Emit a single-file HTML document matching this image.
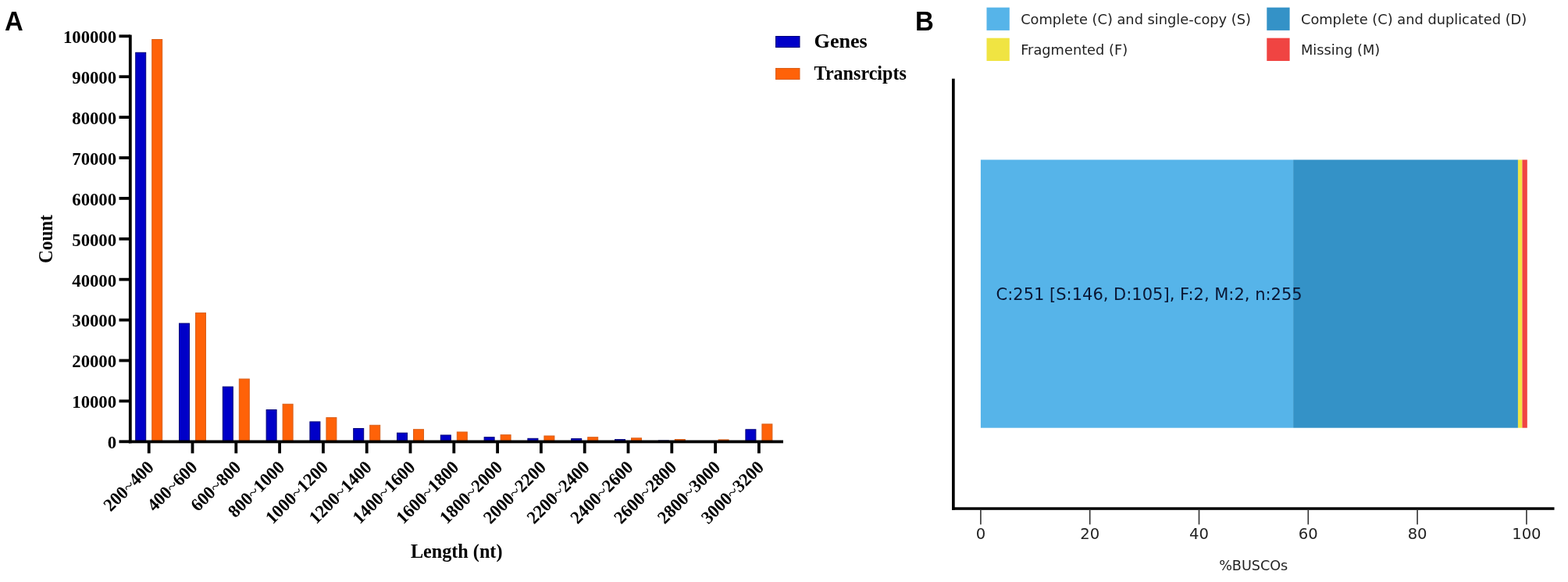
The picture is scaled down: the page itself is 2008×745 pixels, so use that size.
<!DOCTYPE html><html><head><meta charset="utf-8"><title>Figure</title><style>
html,body{margin:0;padding:0;background:#fff;}body{width:2008px;height:745px;overflow:hidden;position:relative;}
svg{position:absolute;left:0;top:0;display:block}
.serif{font-family:"Liberation Serif","Times New Roman",serif;font-weight:bold;fill:#000}
.sans{font-family:"DejaVu Sans","Liberation Sans",sans-serif;fill:#222}
.lab{font-family:"Liberation Sans",Arial,sans-serif;font-weight:bold;fill:#000}
</style></head><body>
<svg width="2008" height="745" viewBox="0 0 2008 745">
<text class="lab" x="0" y="0" font-size="34.6" transform="translate(6 39.1) scale(0.95 1)">A</text>
<text class="lab" x="0" y="0" font-size="34.6" transform="translate(1172 38.9) scale(0.955 1)">B</text>
<g id="chartA">
<rect x="173.7" y="67.3" width="13" height="498.1" fill="#0000c8" stroke="#000078" stroke-width="1"/>
<rect x="194.7" y="50.5" width="13" height="514.9" fill="#ff6208" stroke="#d8601c" stroke-width="1"/>
<rect x="229.5" y="414" width="13" height="151.4" fill="#0000c8" stroke="#000078" stroke-width="1"/>
<rect x="250.5" y="400.6" width="13" height="164.8" fill="#ff6208" stroke="#d8601c" stroke-width="1"/>
<rect x="285.3" y="495.1" width="13" height="70.3" fill="#0000c8" stroke="#000078" stroke-width="1"/>
<rect x="306.3" y="485.1" width="13" height="80.3" fill="#ff6208" stroke="#d8601c" stroke-width="1"/>
<rect x="341.1" y="524.6" width="13" height="40.8" fill="#0000c8" stroke="#000078" stroke-width="1"/>
<rect x="362.1" y="517.3" width="13" height="48.1" fill="#ff6208" stroke="#d8601c" stroke-width="1"/>
<rect x="396.9" y="539.9" width="13" height="25.5" fill="#0000c8" stroke="#000078" stroke-width="1"/>
<rect x="417.9" y="534.6" width="13" height="30.8" fill="#ff6208" stroke="#d8601c" stroke-width="1"/>
<rect x="452.7" y="548.5" width="13" height="16.9" fill="#0000c8" stroke="#000078" stroke-width="1"/>
<rect x="473.7" y="544.3" width="13" height="21.1" fill="#ff6208" stroke="#d8601c" stroke-width="1"/>
<rect x="508.5" y="554.2" width="13" height="11.2" fill="#0000c8" stroke="#000078" stroke-width="1"/>
<rect x="529.5" y="549.7" width="13" height="15.7" fill="#ff6208" stroke="#d8601c" stroke-width="1"/>
<rect x="564.3" y="557" width="13" height="8.4" fill="#0000c8" stroke="#000078" stroke-width="1"/>
<rect x="585.3" y="553" width="13" height="12.4" fill="#ff6208" stroke="#d8601c" stroke-width="1"/>
<rect x="620.1" y="559.7" width="13" height="5.7" fill="#0000c8" stroke="#000078" stroke-width="1"/>
<rect x="641.1" y="556.7" width="13" height="8.7" fill="#ff6208" stroke="#d8601c" stroke-width="1"/>
<rect x="675.9" y="561.3" width="13" height="4.1" fill="#0000c8" stroke="#000078" stroke-width="1"/>
<rect x="696.9" y="558" width="13" height="7.4" fill="#ff6208" stroke="#d8601c" stroke-width="1"/>
<rect x="731.7" y="561.6" width="13" height="3.8" fill="#0000c8" stroke="#000078" stroke-width="1"/>
<rect x="752.7" y="559.7" width="13" height="5.7" fill="#ff6208" stroke="#d8601c" stroke-width="1"/>
<rect x="787.5" y="562.6" width="13" height="2.8" fill="#0000c8" stroke="#000078" stroke-width="1"/>
<rect x="808.5" y="560.8" width="13" height="4.6" fill="#ff6208" stroke="#d8601c" stroke-width="1"/>
<rect x="843.3" y="564" width="13" height="1.4" fill="#0000c8" stroke="#000078" stroke-width="1"/>
<rect x="864.3" y="562.5" width="13" height="2.9" fill="#ff6208" stroke="#d8601c" stroke-width="1"/>
<rect x="899.1" y="564.5" width="13" height="0.9" fill="#0000c8" stroke="#000078" stroke-width="1"/>
<rect x="920.1" y="562.9" width="13" height="2.5" fill="#ff6208" stroke="#d8601c" stroke-width="1"/>
<rect x="954.9" y="549.8" width="13" height="15.6" fill="#0000c8" stroke="#000078" stroke-width="1"/>
<rect x="975.9" y="542.9" width="13" height="22.5" fill="#ff6208" stroke="#d8601c" stroke-width="1"/>
<rect x="164.9" y="44.6" width="3.8" height="522.7" fill="#000"/>
<rect x="164.9" y="563.5" width="838.1" height="3.8" fill="#000"/>
<rect x="152.5" y="563.4" width="14.3" height="3.8" fill="#000"/>
<text class="serif" x="0" y="0" font-size="23.1" text-anchor="end" transform="translate(149.1 574.1) scale(0.985 1)">0</text>
<rect x="152.5" y="511.5" width="14.3" height="3.8" fill="#000"/>
<text class="serif" x="0" y="0" font-size="23.1" text-anchor="end" transform="translate(149.1 522.2) scale(0.985 1)">10000</text>
<rect x="152.5" y="459.6" width="14.3" height="3.8" fill="#000"/>
<text class="serif" x="0" y="0" font-size="23.1" text-anchor="end" transform="translate(149.1 470.3) scale(0.985 1)">20000</text>
<rect x="152.5" y="407.7" width="14.3" height="3.8" fill="#000"/>
<text class="serif" x="0" y="0" font-size="23.1" text-anchor="end" transform="translate(149.1 418.4) scale(0.985 1)">30000</text>
<rect x="152.5" y="355.8" width="14.3" height="3.8" fill="#000"/>
<text class="serif" x="0" y="0" font-size="23.1" text-anchor="end" transform="translate(149.1 366.5) scale(0.985 1)">40000</text>
<rect x="152.5" y="303.9" width="14.3" height="3.8" fill="#000"/>
<text class="serif" x="0" y="0" font-size="23.1" text-anchor="end" transform="translate(149.1 314.6) scale(0.985 1)">50000</text>
<rect x="152.5" y="252" width="14.3" height="3.8" fill="#000"/>
<text class="serif" x="0" y="0" font-size="23.1" text-anchor="end" transform="translate(149.1 262.7) scale(0.985 1)">60000</text>
<rect x="152.5" y="200.1" width="14.3" height="3.8" fill="#000"/>
<text class="serif" x="0" y="0" font-size="23.1" text-anchor="end" transform="translate(149.1 210.8) scale(0.985 1)">70000</text>
<rect x="152.5" y="148.2" width="14.3" height="3.8" fill="#000"/>
<text class="serif" x="0" y="0" font-size="23.1" text-anchor="end" transform="translate(149.1 158.9) scale(0.985 1)">80000</text>
<rect x="152.5" y="96.3" width="14.3" height="3.8" fill="#000"/>
<text class="serif" x="0" y="0" font-size="23.1" text-anchor="end" transform="translate(149.1 107) scale(0.985 1)">90000</text>
<rect x="152.5" y="44.4" width="14.3" height="3.8" fill="#000"/>
<text class="serif" x="0" y="0" font-size="23.1" text-anchor="end" transform="translate(149.1 55.1) scale(0.985 1)">100000</text>
<rect x="188.8" y="565.4" width="3.8" height="14.9" fill="#000"/>
<text class="serif" x="198.2" y="599.5" font-size="23.2" text-anchor="end" transform="rotate(-45 198.2 599.5) translate(198.2 599.5) scale(0.97 1) translate(-198.2 -599.5)">200<tspan font-weight="normal">~</tspan>400</text>
<rect x="244.6" y="565.4" width="3.8" height="14.9" fill="#000"/>
<text class="serif" x="254" y="599.5" font-size="23.2" text-anchor="end" transform="rotate(-45 254 599.5) translate(254 599.5) scale(0.97 1) translate(-254 -599.5)">400<tspan font-weight="normal">~</tspan>600</text>
<rect x="300.4" y="565.4" width="3.8" height="14.9" fill="#000"/>
<text class="serif" x="309.8" y="599.5" font-size="23.2" text-anchor="end" transform="rotate(-45 309.8 599.5) translate(309.8 599.5) scale(0.97 1) translate(-309.8 -599.5)">600<tspan font-weight="normal">~</tspan>800</text>
<rect x="356.2" y="565.4" width="3.8" height="14.9" fill="#000"/>
<text class="serif" x="365.6" y="599.5" font-size="23.2" text-anchor="end" transform="rotate(-45 365.6 599.5) translate(365.6 599.5) scale(0.97 1) translate(-365.6 -599.5)">800<tspan font-weight="normal">~</tspan>1000</text>
<rect x="412" y="565.4" width="3.8" height="14.9" fill="#000"/>
<text class="serif" x="421.4" y="599.5" font-size="23.2" text-anchor="end" transform="rotate(-45 421.4 599.5) translate(421.4 599.5) scale(0.97 1) translate(-421.4 -599.5)">1000<tspan font-weight="normal">~</tspan>1200</text>
<rect x="467.8" y="565.4" width="3.8" height="14.9" fill="#000"/>
<text class="serif" x="477.2" y="599.5" font-size="23.2" text-anchor="end" transform="rotate(-45 477.2 599.5) translate(477.2 599.5) scale(0.97 1) translate(-477.2 -599.5)">1200<tspan font-weight="normal">~</tspan>1400</text>
<rect x="523.6" y="565.4" width="3.8" height="14.9" fill="#000"/>
<text class="serif" x="533" y="599.5" font-size="23.2" text-anchor="end" transform="rotate(-45 533 599.5) translate(533 599.5) scale(0.97 1) translate(-533 -599.5)">1400<tspan font-weight="normal">~</tspan>1600</text>
<rect x="579.4" y="565.4" width="3.8" height="14.9" fill="#000"/>
<text class="serif" x="588.8" y="599.5" font-size="23.2" text-anchor="end" transform="rotate(-45 588.8 599.5) translate(588.8 599.5) scale(0.97 1) translate(-588.8 -599.5)">1600<tspan font-weight="normal">~</tspan>1800</text>
<rect x="635.2" y="565.4" width="3.8" height="14.9" fill="#000"/>
<text class="serif" x="644.6" y="599.5" font-size="23.2" text-anchor="end" transform="rotate(-45 644.6 599.5) translate(644.6 599.5) scale(0.97 1) translate(-644.6 -599.5)">1800<tspan font-weight="normal">~</tspan>2000</text>
<rect x="691" y="565.4" width="3.8" height="14.9" fill="#000"/>
<text class="serif" x="700.4" y="599.5" font-size="23.2" text-anchor="end" transform="rotate(-45 700.4 599.5) translate(700.4 599.5) scale(0.97 1) translate(-700.4 -599.5)">2000<tspan font-weight="normal">~</tspan>2200</text>
<rect x="746.8" y="565.4" width="3.8" height="14.9" fill="#000"/>
<text class="serif" x="756.2" y="599.5" font-size="23.2" text-anchor="end" transform="rotate(-45 756.2 599.5) translate(756.2 599.5) scale(0.97 1) translate(-756.2 -599.5)">2200<tspan font-weight="normal">~</tspan>2400</text>
<rect x="802.6" y="565.4" width="3.8" height="14.9" fill="#000"/>
<text class="serif" x="812" y="599.5" font-size="23.2" text-anchor="end" transform="rotate(-45 812 599.5) translate(812 599.5) scale(0.97 1) translate(-812 -599.5)">2400<tspan font-weight="normal">~</tspan>2600</text>
<rect x="858.4" y="565.4" width="3.8" height="14.9" fill="#000"/>
<text class="serif" x="867.8" y="599.5" font-size="23.2" text-anchor="end" transform="rotate(-45 867.8 599.5) translate(867.8 599.5) scale(0.97 1) translate(-867.8 -599.5)">2600<tspan font-weight="normal">~</tspan>2800</text>
<rect x="914.2" y="565.4" width="3.8" height="14.9" fill="#000"/>
<text class="serif" x="923.6" y="599.5" font-size="23.2" text-anchor="end" transform="rotate(-45 923.6 599.5) translate(923.6 599.5) scale(0.97 1) translate(-923.6 -599.5)">2800<tspan font-weight="normal">~</tspan>3000</text>
<rect x="970" y="565.4" width="3.8" height="14.9" fill="#000"/>
<text class="serif" x="979.4" y="599.5" font-size="23.2" text-anchor="end" transform="rotate(-45 979.4 599.5) translate(979.4 599.5) scale(0.97 1) translate(-979.4 -599.5)">3000<tspan font-weight="normal">~</tspan>3200</text>
<text class="serif" x="0" y="0" font-size="23.3" text-anchor="middle" transform="translate(66.5 306) rotate(-90) scale(1 1.1)">Count</text>
<text class="serif" x="584.7" y="713.8" font-size="24.2" text-anchor="middle">Length (nt)</text>
<rect x="993.5" y="46.5" width="30.5" height="14" fill="#0000c8" stroke="#000078" stroke-width="1"/>
<rect x="993.5" y="87.5" width="30.5" height="14" fill="#ff6208" stroke="#d8601c" stroke-width="1"/>
<text class="serif" x="0" y="0" font-size="25" transform="translate(1042.6 61.4) scale(1.044 1)">Genes</text>
<text class="serif" x="0" y="0" font-size="25" transform="translate(1042.6 102) scale(0.964 1)">Transrcipts</text>
</g>
<g id="chartB">
<rect x="1255.9" y="204.5" width="400.21" height="343.2" fill="#56B4E9"/>
<rect x="1656.11" y="204.5" width="287.82" height="343.2" fill="#3492C7"/>
<rect x="1943.94" y="204.5" width="5.48" height="343.2" fill="#F0E442"/>
<rect x="1949.42" y="204.5" width="6.38" height="343.2" fill="#F04442"/>
<text class="sans" x="1275.6" y="383.8" font-size="21" style="fill:#0a1633">C:251 [S:146, D:105], F:2, M:2, n:255</text>
<rect x="1219" y="100.7" width="3.7" height="552.1" fill="#000"/>
<rect x="1219" y="649.3" width="771.5" height="3.5" fill="#000"/>
<rect x="1255.1" y="652.8" width="1.6" height="18.6" fill="#333"/>
<text class="sans" x="1255.9" y="689.8" font-size="19.6" text-anchor="middle">0</text>
<rect x="1394.9" y="652.8" width="1.6" height="18.6" fill="#333"/>
<text class="sans" x="1395.7" y="689.8" font-size="19.6" text-anchor="middle">20</text>
<rect x="1534.7" y="652.8" width="1.6" height="18.6" fill="#333"/>
<text class="sans" x="1535.5" y="689.8" font-size="19.6" text-anchor="middle">40</text>
<rect x="1674.5" y="652.8" width="1.6" height="18.6" fill="#333"/>
<text class="sans" x="1675.3" y="689.8" font-size="19.6" text-anchor="middle">60</text>
<rect x="1814.3" y="652.8" width="1.6" height="18.6" fill="#333"/>
<text class="sans" x="1815.1" y="689.8" font-size="19.6" text-anchor="middle">80</text>
<rect x="1954.1" y="652.8" width="1.6" height="18.6" fill="#333"/>
<text class="sans" x="1954.9" y="689.8" font-size="19.6" text-anchor="middle">100</text>
<text class="sans" x="1605.2" y="730.4" font-size="17.6" text-anchor="middle">%BUSCOs</text>
<rect x="1263.5" y="9.6" width="29.3" height="29.3" fill="#56B4E9"/>
<rect x="1622.3" y="9.6" width="29.3" height="29.3" fill="#3492C7"/>
<rect x="1263.5" y="48.7" width="29.3" height="29.3" fill="#F0E442"/>
<rect x="1622.3" y="48.7" width="29.3" height="29.3" fill="#F04442"/>
<text class="sans" x="1307.2" y="30.9" font-size="17.8">Complete (C) and single-copy (S)</text>
<text class="sans" x="1666" y="30.9" font-size="17.8">Complete (C) and duplicated (D)</text>
<text class="sans" x="1307.2" y="69.9" font-size="17.8">Fragmented (F)</text>
<text class="sans" x="1666" y="69.9" font-size="17.8">Missing (M)</text>
</g>
</svg></body></html>
